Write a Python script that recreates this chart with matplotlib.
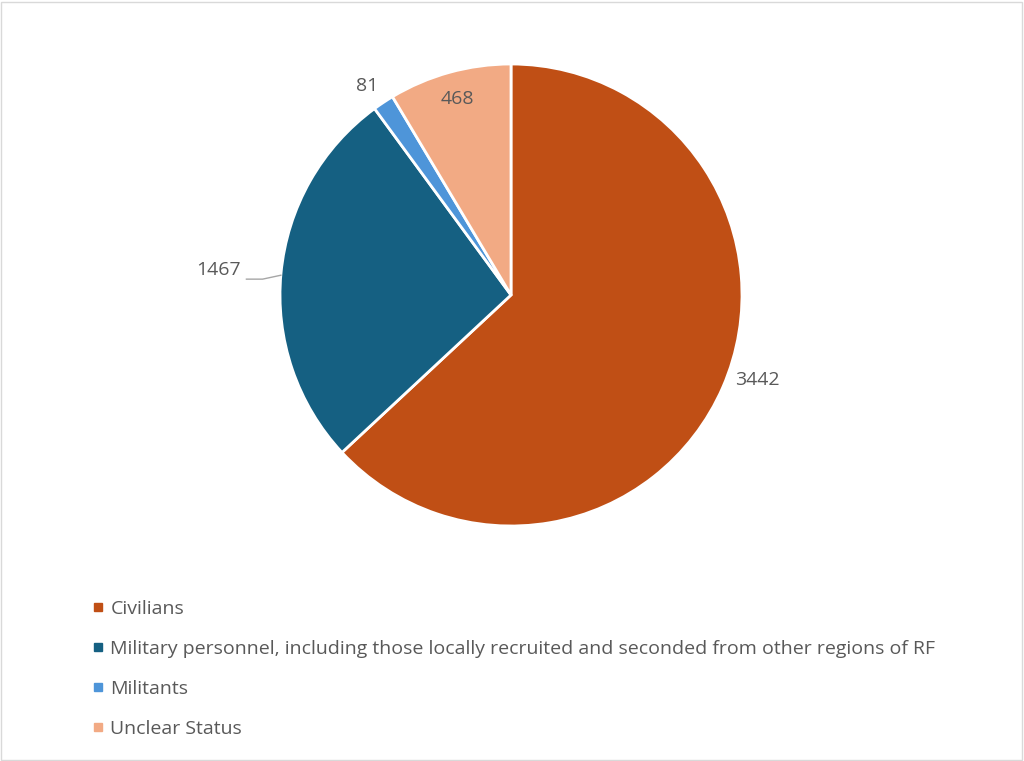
import numpy as np
import matplotlib.pyplot as plt
from matplotlib.lines import Line2D
from matplotlib.patches import Rectangle

plt.rcParams['font.family'] = ['Open Sans', 'DejaVu Sans']

# data
categories = ['Civilians',
              'Military personnel, including those locally recruited and seconded from other regions of RF',
              'Militants',
              'Unclear Status']
values = [3442, 1467, 81, 468]
colors = ['#C04F15', '#156082', '#4E95D9', '#F2AA84']

# label placement (radius as a multiple of pie radius, angle shift in degrees)
label_r = [1.13, 1.27, 1.10, 0.88]
label_shift = [4.5, 0.5, 1.0, 0.0]

txt_color = '#595959'

fig = plt.figure(figsize=(10.24, 7.61), dpi=100)
ax = fig.add_axes([280 / 1024, 235 / 761, 462 / 1024, 462 / 761])

wedges, _ = ax.pie(values, colors=colors, startangle=90, counterclock=False,
                   radius=1, wedgeprops=dict(edgecolor='white', linewidth=2))
ax.set_xlim(-1, 1)
ax.set_ylim(-1, 1)
ax.set_aspect('equal')
ax.axis('off')

for i, w in enumerate(wedges):
    ang = np.deg2rad((w.theta1 + w.theta2) / 2 + label_shift[i])
    x, y = label_r[i] * np.cos(ang), label_r[i] * np.sin(ang)
    ax.text(x, y, str(values[i]), ha='center', va='center', fontsize=14,
            color=txt_color)
    if i == 1:
        # leader line for the outside label
        ex, ey = np.cos(ang), np.sin(ang)
        ax.plot([x + 0.12, x + 0.19, ex], [y - 0.04, y - 0.04, ey],
                color='#A6A6A6', lw=1, clip_on=False)

handles = [Line2D([0], [0], marker='s', linestyle='', markersize=6,
                  markerfacecolor=c, markeredgecolor=c) for c in colors]
fig.legend(handles, categories, loc='upper left',
           bbox_to_anchor=(85 / 1024, 1 - 592 / 761), frameon=False,
           fontsize=14, labelcolor=txt_color, handlelength=0.5,
           handletextpad=0.4, labelspacing=1.14, borderaxespad=0)

fig.patches.append(Rectangle((0.001, 0.001), 0.997, 0.997,
                             transform=fig.transFigure, fill=False,
                             edgecolor='#D9D9D9', lw=1))

fig.savefig('out.png', dpi=100)
